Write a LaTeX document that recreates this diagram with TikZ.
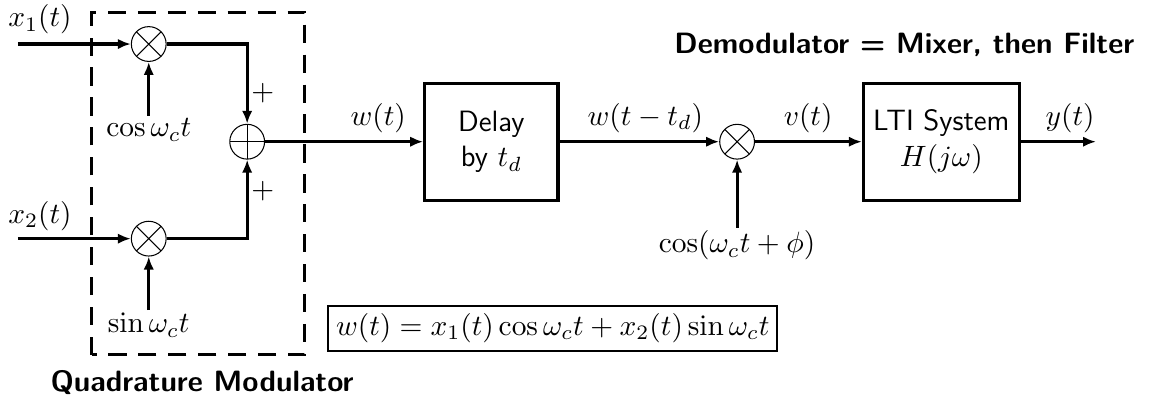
\RequirePackage{fix-cm}
\documentclass[tikz,border=0pt]{standalone}
\usetikzlibrary{arrows.meta}
\begin{document}
\begin{tikzpicture}[>={Latex[length=5pt,width=4pt]}]\fontsize{11.3}{13.6}\selectfont
      \tikzstyle{wire}=[very thick]
      \tikzstyle{block}=[draw,very thick,minimum height=1.58cm,align=center,font=\sffamily]
      \tikzstyle{mixer}=[circle,draw,thin,minimum size=0.47cm,inner sep=0pt,
        path picture={\draw[thin] (path picture bounding box.north west) -- (path picture bounding box.south east)
          (path picture bounding box.north east) -- (path picture bounding box.south west);}]
      \tikzstyle{adder}=[circle,draw,thin,minimum size=0.47cm,inner sep=0pt,
        path picture={\draw[thin] (path picture bounding box.north) -- (path picture bounding box.south)
          (path picture bounding box.west) -- (path picture bounding box.east);}]
      \tikzstyle{lbl}=[inner sep=1pt]
      \useasboundingbox (0,0) rectangle (15.58,5.405);
      \draw[very thick,dash pattern=on 7pt off 4.5pt] (1.24,0.61) rectangle (4.12,5.24);
      \coordinate (in1) at (0.24,4.81);
      \coordinate (in2) at (0.24,2.18);
      \coordinate (out) at (14.81,3.49);
      \node[mixer] (m1) at (2.01,4.81) {};
      \node[mixer] (m2) at (2.01,2.18) {};
      \node[adder] (s) at (3.34,3.49) {};
      \node[lbl] (lx1) at (0.54,5.14) {$x_1(t)$};
      \node[lbl] (lx2) at (0.54,2.49) {$x_2(t)$};
      \node[lbl] (lcos) at (2.01,3.65) {$\cos\omega_c t$};
      \node[lbl] (lsin) at (2.01,1.01) {$\sin\omega_c t$};
      \node[lbl] (p1) at (3.55,4.15) {$+$};
      \node[lbl] (p2) at (3.55,2.82) {$+$};
      \node[lbl] (qm) at (2.73,0.24) {\sffamily\bfseries Quadrature Modulator};
      \node[block,minimum width=1.80cm] (delay) at (6.64,3.49) {Delay\\by $t_d$};
      \node[lbl] (lw) at (5.11,3.81) {$w(t)$};
      \node[lbl] (lwd) at (8.72,3.81) {$w(t-t_d)$};
      \node[mixer] (m3) at (9.96,3.49) {};
      \node[lbl] (lcos2) at (9.96,2.09) {$\cos(\omega_c t+\phi)$};
      \node[lbl] (lv) at (10.92,3.81) {$v(t)$};
      \node[block,minimum width=2.01cm] (lti) at (12.72,3.49) {LTI System\\$H(j\omega)$};
      \node[lbl] (ly) at (14.46,3.81) {$y(t)$};
      \node[lbl] (dm) at (12.22,4.80) {\sffamily\bfseries Demodulator = Mixer, then Filter};
      \node[draw,thick,inner sep=3pt] (eq) at (7.47,0.97) {$w(t)=x_1(t)\cos\omega_c t+x_2(t)\sin\omega_c t$};
      \draw[wire,->] (in1) -- (m1);
      \draw[wire,->] (in2) -- (m2);
      \draw[wire,->] (lcos) -- (m1);
      \draw[wire,->] (lsin) -- (m2);
      \draw[wire,->] (m1) -| (s);
      \draw[wire,->] (m2) -| (s);
      \draw[wire,->] (s) -- (delay);
      \draw[wire,->] (delay) -- (m3);
      \draw[wire,->] (lcos2) -- (m3);
      \draw[wire,->] (m3) -- (lti);
      \draw[wire,->] (lti) -- (out);
\end{tikzpicture}
\end{document}
